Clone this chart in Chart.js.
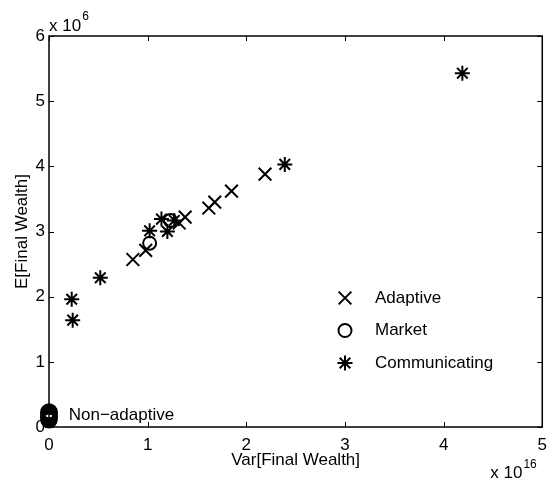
<!DOCTYPE html>
<html>
<head>
<meta charset="utf-8">
<script src="https://cdn.jsdelivr.net/npm/chart.js@4.4.1/dist/chart.umd.min.js"></script>
<style>
html, body { margin: 0; padding: 0; background: #fff; }
canvas { display: block; }
</style>
</head>
<body>
<canvas id="plot" width="555" height="480"></canvas>
<script>
// x = Var[Final Wealth] in units of 1e16, y = E[Final Wealth] in units of 1e6
const adaptiveVar = [0.85, 0.98, 1.32, 1.38, 1.62, 1.68, 1.85, 2.19];
const adaptiveMean = [2.57, 2.71, 3.13, 3.22, 3.36, 3.45, 3.62, 3.88];
const marketVar = [1.02, 1.23];
const marketMean = [2.82, 3.17];
const commVar = [0.23, 0.24, 0.52, 1.02, 1.14, 1.20, 1.27, 2.39, 4.19];
const commMean = [1.96, 1.64, 2.29, 3.01, 3.19, 3.00, 3.17, 4.03, 5.43];
const nonAdaptiveVar = [0.00, 0.00, 0.00, 0.00, 0.00];
const nonAdaptiveMean = [0.11, 0.14, 0.17, 0.20, 0.23];
const xTicks = [0, 1, 2, 3, 4, 5];
const yTicks = [0, 1, 2, 3, 4, 5, 6];

const FONT = "'Liberation Sans', Arial, Helvetica, sans-serif";
Chart.defaults.font.family = FONT;
Chart.defaults.color = '#000';

const toPoints = (xs, ys) => xs.map((x, i) => ({ x: x, y: ys[i] }));

const legendRows = [
    { label: 'Adaptive', style: 'crossRot', radius: 9 },
    { label: 'Market', style: 'circle', radius: 6.5 },
    { label: 'Communicating', style: 'star', radius: 7.5 }
];

// box, inward ticks, exponents, legend and note, drawn like a matlab figure
const matlabAxes = {
    id: 'matlabAxes',
    afterDraw(chart) {
        const ctx = chart.ctx;
        const a = chart.chartArea;
        const xs = chart.scales.x;
        const ys = chart.scales.y;
        ctx.save();
        ctx.strokeStyle = '#000';
        ctx.lineWidth = 1.5;
        ctx.strokeRect(a.left, a.top, a.right - a.left, a.bottom - a.top);
        ctx.lineWidth = 1;
        const tl = 5;
        for (const t of xTicks) {
            const px = Math.round(xs.getPixelForValue(t)) + 0.5;
            ctx.beginPath();
            ctx.moveTo(px, a.bottom); ctx.lineTo(px, a.bottom - tl);
            ctx.moveTo(px, a.top); ctx.lineTo(px, a.top + tl);
            ctx.stroke();
        }
        for (const t of yTicks) {
            const py = Math.round(ys.getPixelForValue(t)) + 0.5;
            ctx.beginPath();
            ctx.moveTo(a.left, py); ctx.lineTo(a.left + tl, py);
            ctx.moveTo(a.right, py); ctx.lineTo(a.right - tl, py);
            ctx.stroke();
        }

        ctx.fillStyle = '#000';
        ctx.textBaseline = 'alphabetic';
        ctx.textAlign = 'left';
        // y exponent
        ctx.font = '17px ' + FONT;
        ctx.fillText('x 10', a.left, a.top - 5);
        let w = ctx.measureText('x 10').width;
        ctx.font = '12px ' + FONT;
        ctx.fillText('6', a.left + w + 1, a.top - 16);
        // x exponent
        ctx.font = '17px ' + FONT;
        w = ctx.measureText('x 10').width;
        ctx.fillText('x 10', a.right - 52, 478);
        ctx.font = '12px ' + FONT;
        ctx.fillText('16', a.right - 52 + w + 1, 468);

        // note beside the non-adaptive points
        ctx.font = '17px ' + FONT;
        ctx.fillText('Non\u2212adaptive', xs.getPixelForValue(0.2), ys.getPixelForValue(0.1));

        // legend
        ctx.textBaseline = 'middle';
        legendRows.forEach((row, i) => {
            const y = 298 + i * 32.5;
            ctx.strokeStyle = '#000';
            ctx.fillStyle = '#fff';
            ctx.lineWidth = 2;
            Chart.helpers.drawPoint(ctx, { pointStyle: row.style, radius: row.radius, rotation: 0, borderWidth: 2 }, 345, y);
            ctx.fillStyle = '#000';
            ctx.fillText(row.label, 375, y);
        });
        ctx.restore();
    }
};

const base = {
    showLine: false,
    pointBorderColor: '#000',
    pointBackgroundColor: '#fff',
    pointBorderWidth: 2,
    clip: false
};

new Chart(document.getElementById('plot'), {
    type: 'scatter',
    data: {
        datasets: [
            Object.assign({}, base, { label: 'Non-adaptive', data: toPoints(nonAdaptiveVar, nonAdaptiveMean), pointStyle: 'circle', pointRadius: 7, pointBorderWidth: 3.5, pointBackgroundColor: 'rgba(255,255,255,0)', order: 4 }),
            Object.assign({}, base, { label: 'Adaptive', data: toPoints(adaptiveVar, adaptiveMean), pointStyle: 'crossRot', pointRadius: 9, order: 3 }),
            Object.assign({}, base, { label: 'Market', data: toPoints(marketVar, marketMean), pointStyle: 'circle', pointRadius: 6.5, pointBackgroundColor: 'rgba(255,255,255,0)', order: 2 }),
            Object.assign({}, base, { label: 'Communicating', data: toPoints(commVar, commMean), pointStyle: 'star', pointRadius: 7.5, order: 1 })
        ]
    },
    options: {
        responsive: false,
        animation: false,
        events: [],
        layout: { padding: { top: 36, right: 12, bottom: 0, left: 0 } },
        plugins: { legend: { display: false }, tooltip: { enabled: false } },
        scales: {
            x: {
                type: 'linear',
                min: 0,
                max: 5,
                afterFit: (s) => { s.height = 53; },
                afterBuildTicks: (s) => { s.ticks = xTicks.map(v => ({ value: v })); },
                ticks: { font: { size: 17 }, padding: 8, maxRotation: 0, color: '#000' },
                grid: { display: false, drawTicks: false },
                border: { display: false },
                title: { display: true, text: 'Var[Final Wealth]', font: { size: 17 }, color: '#000', padding: { top: 0, bottom: 9 } }
            },
            y: {
                type: 'linear',
                min: 0,
                max: 6,
                afterFit: (s) => { s.width = 49; },
                afterBuildTicks: (s) => { s.ticks = yTicks.map(v => ({ value: v })); },
                ticks: { font: { size: 17 }, padding: 4, color: '#000' },
                grid: { display: false, drawTicks: false },
                border: { display: false },
                title: { display: true, text: 'E[Final Wealth]', font: { size: 17 }, color: '#000', padding: { top: 12, bottom: 12 } }
            }
        }
    },
    plugins: [matlabAxes]
});
</script>
</body>
</html>
